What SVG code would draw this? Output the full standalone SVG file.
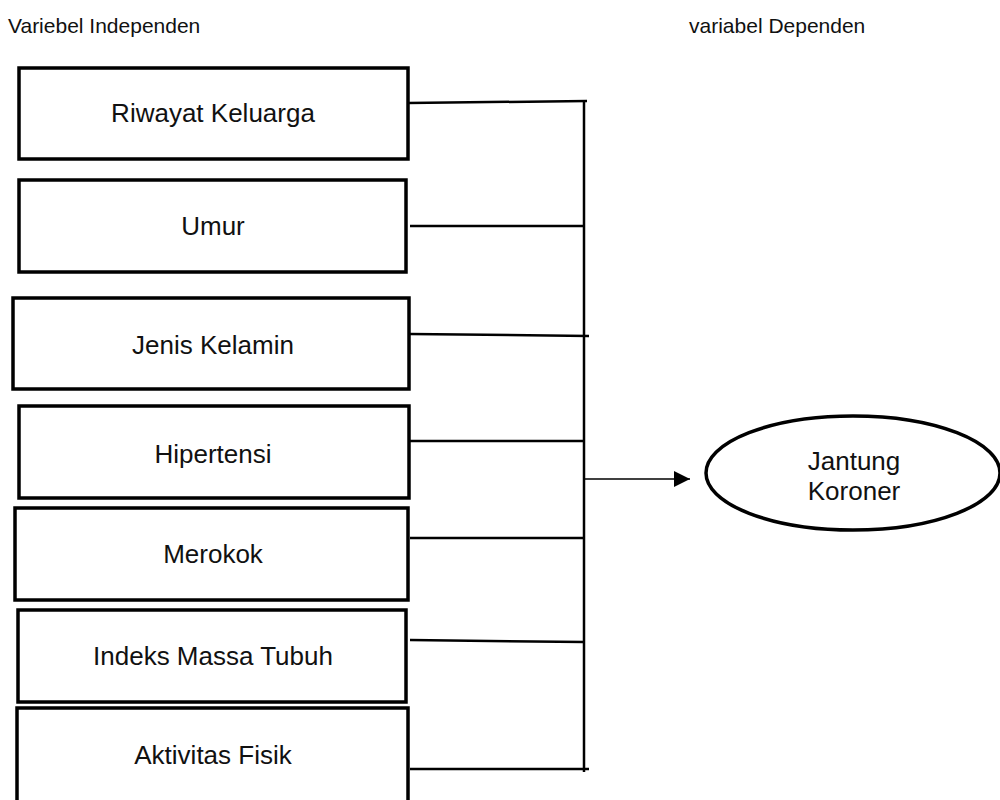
<svg xmlns="http://www.w3.org/2000/svg" width="1000" height="800" viewBox="0 0 1000 800">
<style>
.box{fill:#fff;stroke:#000;stroke-width:3.5}
.lbl{font-family:"Liberation Sans",Arial,sans-serif;font-size:26px;fill:#111;text-anchor:middle}
.ttl{font-family:"Liberation Sans",Arial,sans-serif;font-size:21px;fill:#111}
.con{stroke:#000;stroke-width:2.5;fill:none}
</style>
<defs>
<marker id="ah" viewBox="0 0 10 10" refX="10" refY="5" markerWidth="18" markerHeight="16" markerUnits="userSpaceOnUse" orient="auto">
<path d="M0,0 L10,5 L0,10 z" fill="#000"/>
</marker>
</defs>
<rect width="1000" height="800" fill="#fff"/>
<text class="ttl" x="8" y="33">Variebel Independen</text>
<text class="ttl" x="689" y="33">variabel Dependen</text>
<g id="connectors">
<line class="con" x1="584" y1="100" x2="584" y2="772"/>
<line class="con" x1="408" y1="103" x2="587" y2="101"/>
<line class="con" x1="410" y1="226" x2="584" y2="226"/>
<line class="con" x1="410" y1="334" x2="589" y2="336"/>
<line class="con" x1="410" y1="441" x2="584" y2="441"/>
<line class="con" x1="410" y1="538" x2="584" y2="538"/>
<line class="con" x1="410" y1="640" x2="584" y2="642"/>
<line class="con" x1="410" y1="769" x2="589" y2="769"/>
<line x1="584" y1="479" x2="690" y2="479" stroke="#000" stroke-width="1.5" marker-end="url(#ah)"/>
</g>
<g id="n1"><rect class="box" x="19" y="68" width="389" height="91"/><text class="lbl" x="213" y="122">Riwayat Keluarga</text></g>
<g id="n2"><rect class="box" x="19" y="180" width="387" height="92"/><text class="lbl" x="213" y="235">Umur</text></g>
<g id="n3"><rect class="box" x="13" y="298" width="396" height="91"/><text class="lbl" x="213" y="354">Jenis Kelamin</text></g>
<g id="n4"><rect class="box" x="19" y="406" width="390" height="92"/><text class="lbl" x="213" y="463">Hipertensi</text></g>
<g id="n5"><rect class="box" x="15" y="508" width="393" height="92"/><text class="lbl" x="213" y="563">Merokok</text></g>
<g id="n6"><rect class="box" x="18" y="610" width="388" height="92"/><text class="lbl" x="213" y="665">Indeks Massa Tubuh</text></g>
<g id="n7"><rect class="box" x="17" y="708" width="391" height="100"/><text class="lbl" x="213" y="764">Aktivitas Fisik</text></g>
<g id="n8"><ellipse cx="853" cy="473" rx="147" ry="57" fill="#fff" stroke="#000" stroke-width="3.5"/>
<text class="lbl" x="854" y="470">Jantung</text><text class="lbl" x="854" y="500">Koroner</text></g>
</svg>
